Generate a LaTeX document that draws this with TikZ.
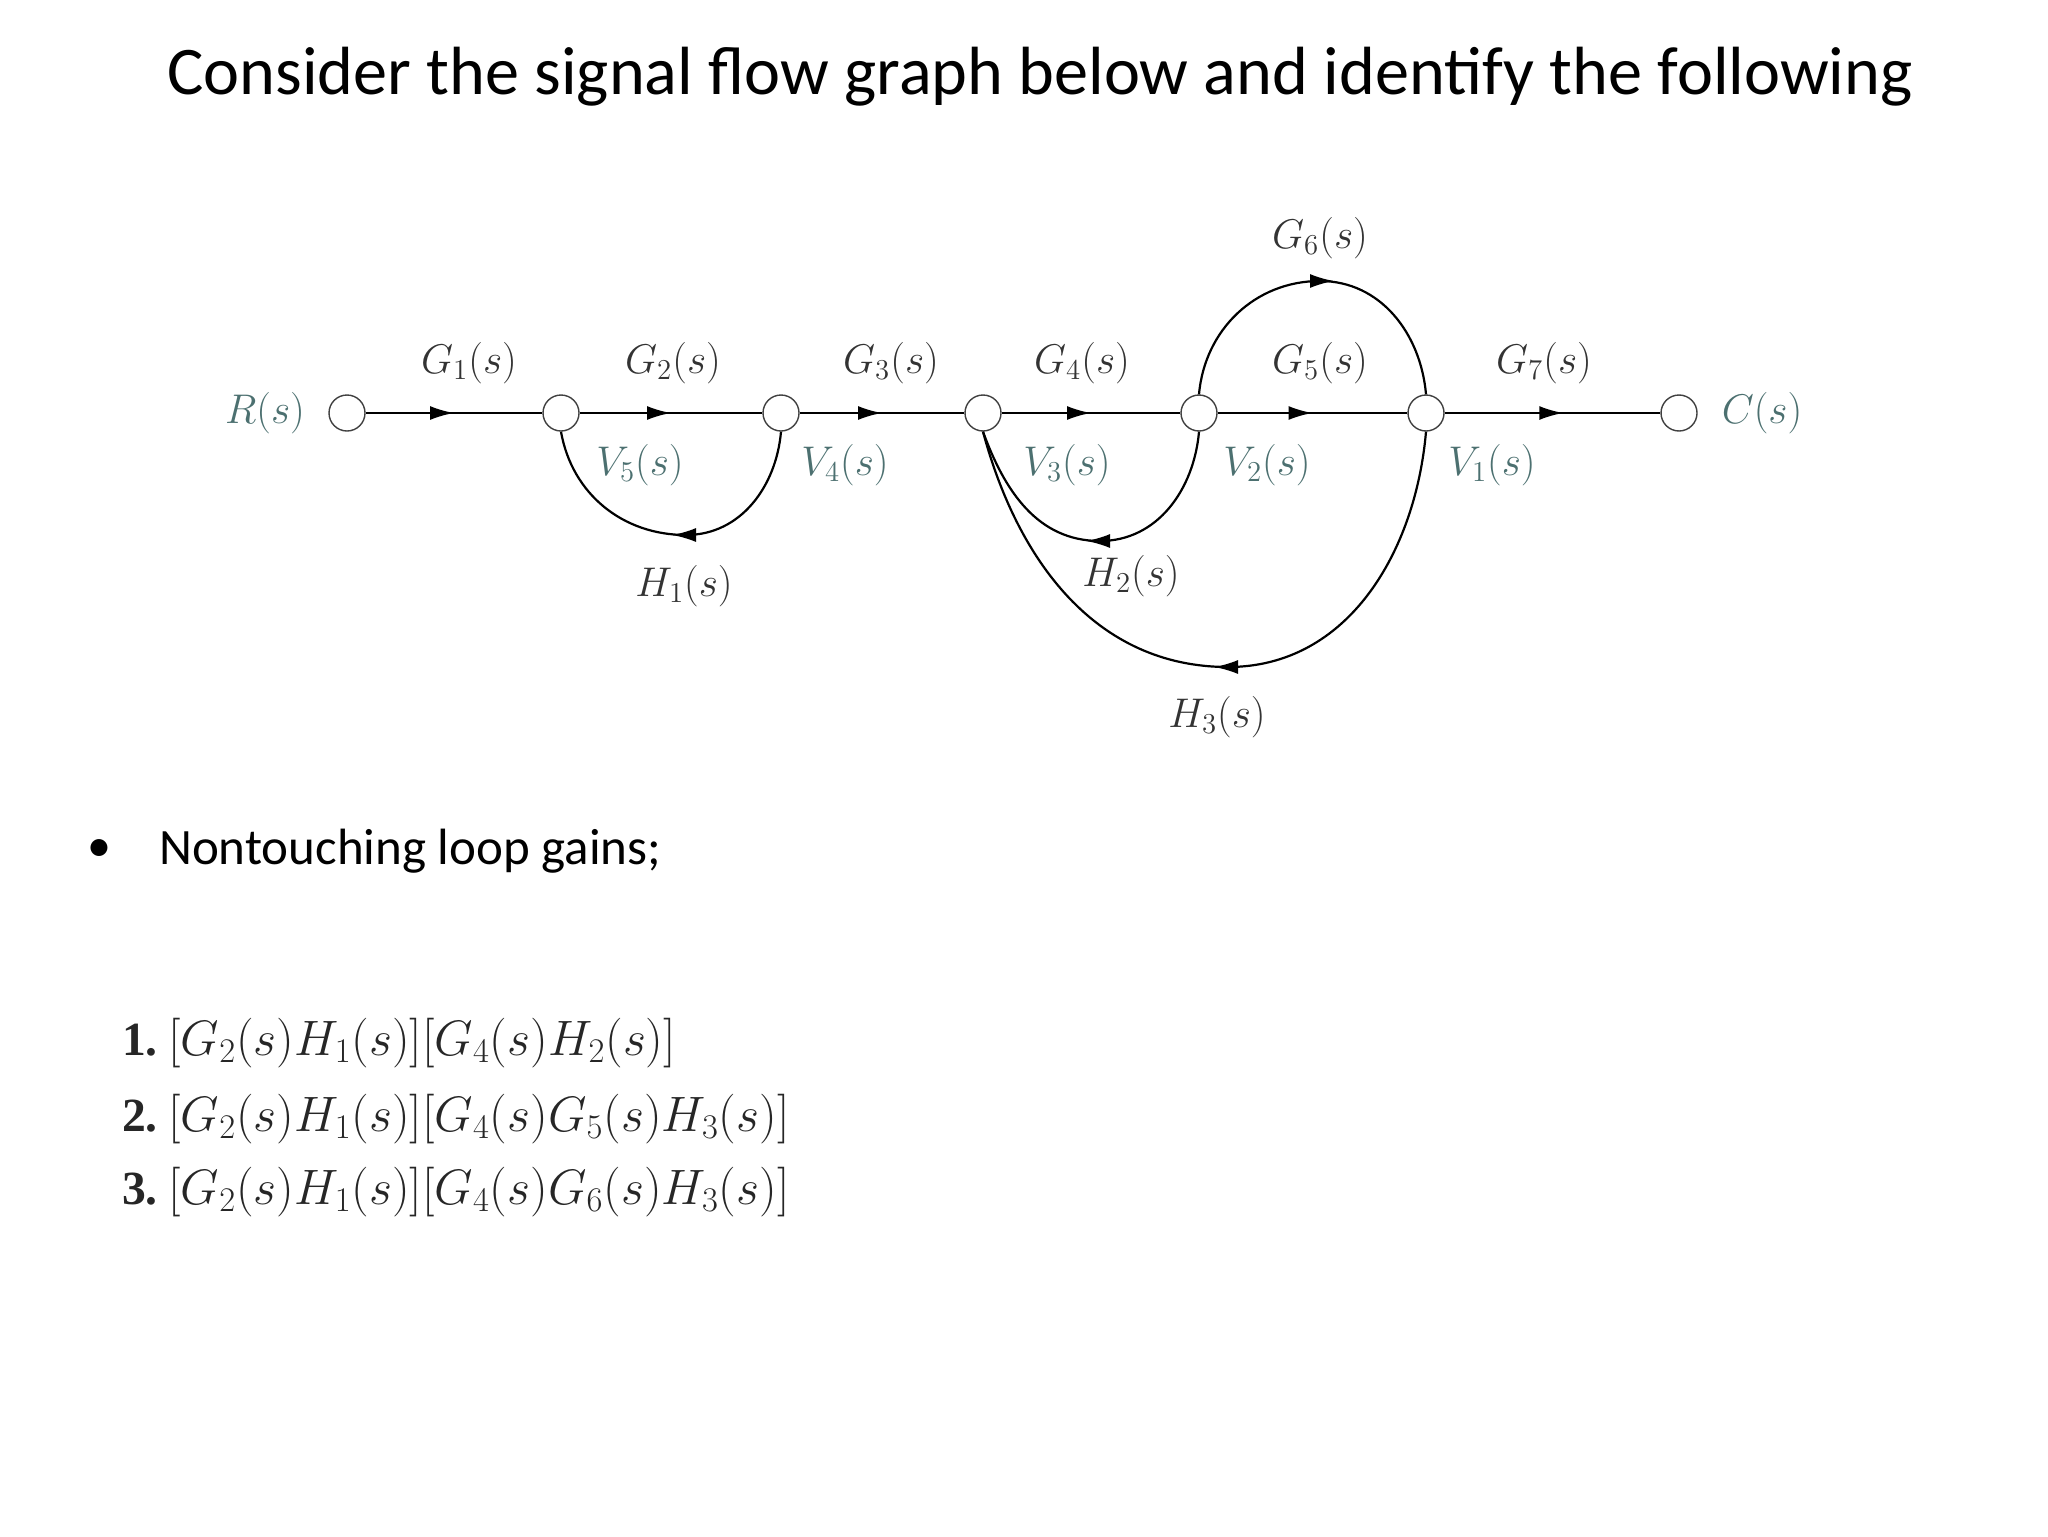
\documentclass[tikz,border=0pt]{standalone}
\usepackage{fontspec}
\setmainfont{Carlito}
\newfontfamily\lserif{Liberation Serif}
\usetikzlibrary{decorations.markings,arrows.meta}
\begin{document}
\begin{tikzpicture}[x=0.5pt,y=-0.5pt,
  sn/.style={circle,draw=black!75,line width=0.7pt,minimum size=18pt,inner sep=0pt,fill=white},
  gl/.style={text=black!80,font=\fontsize{21}{24}\selectfont},
  vl/.style={text=teal!40!black!70,font=\fontsize{21}{24}\selectfont},
  br/.style={line width=1.1pt,decoration={markings,mark=at position 0.5 with {\arrow{Latex[length=12pt,width=7pt]}}},postaction={decorate}},
  br2/.style={line width=1.1pt,decoration={markings,mark=at position 0.55 with {\arrow{Latex[length=12pt,width=7pt]}}},postaction={decorate}},
  tip/.style={-{Latex[length=12pt,width=7pt]},line width=1.1pt},
  lst/.style={anchor=west,font=\fontsize{23.8}{28}\selectfont,text=black!85}]
\useasboundingbox (0,0) rectangle (2048,1536);
\node[font=\fontsize{34.1}{40}\selectfont] (title) at (1040,77) {Consider the signal flow graph below and identify the following};
% nodes
\node[sn] (r) at (347,413) {};
\node[sn] (n2) at (561,413) {};
\node[sn] (n3) at (781,413) {};
\node[sn] (n4) at (983,413) {};
\node[sn] (n5) at (1199,413) {};
\node[sn] (n6) at (1426,413) {};
\node[sn] (c) at (1679,413) {};
\coordinate (b1) at (686,535);
\coordinate (b2) at (1100,541);
\coordinate (b3) at (1228,667);
\coordinate (t6) at (1320,281);
% branches
\draw[br] (r) -- (n2);
\draw[br] (n2) -- (n3);
\draw[br] (n3) -- (n4);
\draw[br] (n4) -- (n5);
\draw[br] (n5) -- (n6);
\draw[br2] (n6) -- (c);
\draw[line width=1.1pt] (n5.north) to[out=85,in=180] (t6) to[out=0,in=95] (n6.north);
\draw[line width=1.1pt] (n3.south) to[out=-95,in=0] (b1) to[out=180,in=-80] (n2.south);
\draw[line width=1.1pt] (n5.south) to[out=-95,in=0] (b2) to[out=180,in=-70] (n4.south);
\draw[line width=1.1pt] (n6.south) to[out=-95,in=0] (b3) to[out=180,in=-75] (n4.south);
\draw[tip] ([xshift=-3pt]t6) -- ([xshift=7pt]t6);
\draw[tip] ([xshift=3pt]b1) -- ([xshift=-7pt]b1);
\draw[tip] ([xshift=3pt]b2) -- ([xshift=-7pt]b2);
\draw[tip] ([xshift=3pt]b3) -- ([xshift=-7pt]b3);
% labels
\node[vl] (lr) at (265,413) {$R(s)$};
\node[vl] (lc) at (1762,413) {$C(s)$};
\node[gl] (g1) at (469,363) {$G_1(s)$};
\node[gl] (g2) at (673,363) {$G_2(s)$};
\node[gl] (g3) at (891,363) {$G_3(s)$};
\node[gl] (g4) at (1082,363) {$G_4(s)$};
\node[gl] (g5) at (1320,363) {$G_5(s)$};
\node[gl] (g6) at (1320,238) {$G_6(s)$};
\node[gl] (g7) at (1544,363) {$G_7(s)$};
\node[vl] (v5) at (640,465) {$V_5(s)$};
\node[vl] (v4) at (845,465) {$V_4(s)$};
\node[vl] (v3) at (1067,465) {$V_3(s)$};
\node[vl] (v2) at (1267,465) {$V_2(s)$};
\node[vl] (v1) at (1492,465) {$V_1(s)$};
\node[gl] (h1) at (684,586) {$H_1(s)$};
\node[gl] (h2) at (1131,576) {$H_2(s)$};
\node[gl] (h3) at (1217,717) {$H_3(s)$};
% text
\node[font=\fontsize{24}{28}\selectfont] (bul) at (99,851) {•};
\node[anchor=west,font=\fontsize{25.5}{30}\selectfont] (nt) at (152,851) {Nontouching loop gains;};
\node[lst] (l1) at (115,1043) {{\lserif\bfseries 1.}\ $[G_2(s)H_1(s)][G_4(s)H_2(s)]$};
\node[lst] (l2) at (115,1119) {{\lserif\bfseries 2.}\ $[G_2(s)H_1(s)][G_4(s)G_5(s)H_3(s)]$};
\node[lst] (l3) at (115,1192) {{\lserif\bfseries 3.}\ $[G_2(s)H_1(s)][G_4(s)G_6(s)H_3(s)]$};
\end{tikzpicture}
\end{document}
